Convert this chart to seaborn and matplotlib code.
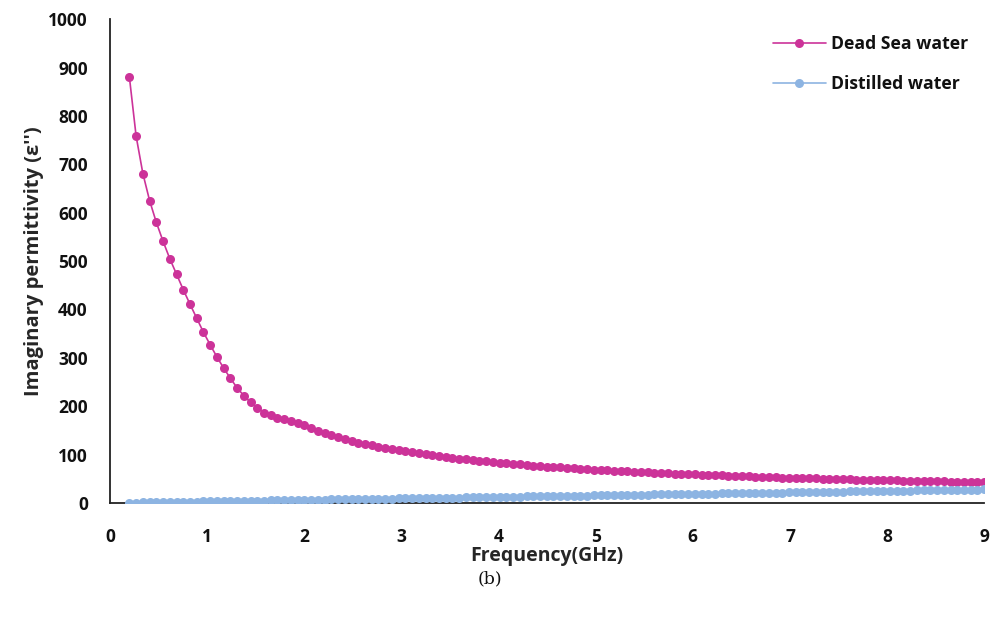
import numpy as np
import pandas as pd
import matplotlib
matplotlib.use("Agg")
import matplotlib.pyplot as plt
import seaborn as sns

# ---- data ----
freq_start, freq_stop, n_points = 0.2, 9.0, 128  # linear frequency sweep (GHz)
frequency = np.linspace(freq_start, freq_stop, n_points)

dead_sea = [
    880, 758, 681, 625, 580, 541, 505, 473, 441, 411,
    382, 353, 327, 302, 279, 258, 238, 222, 208, 197,
    187, 181, 176, 173, 169, 166, 161, 155, 149, 144,
    140, 136, 132, 129, 125, 123, 119, 116, 114, 112,
    109, 107, 105, 103, 101, 99, 96.5, 95, 93.4, 91.8,
    90.3, 88.8, 87.4, 86.0, 84.7, 83.4, 82.2, 81.0, 79.8, 78.7,
    77.6, 76.6, 75.5, 74.6, 73.6, 72.7, 71.8, 70.9, 70.0, 69.2,
    68.4, 67.6, 66.9, 66.1, 65.4, 64.7, 64.0, 63.4, 62.7, 62.1,
    61.4, 60.8, 60.2, 59.7, 59.1, 58.5, 58.0, 57.5, 57.0, 56.5,
    56.0, 55.5, 55.0, 54.5, 54.1, 53.6, 53.2, 52.8, 52.4, 52.0,
    51.6, 51.2, 50.8, 50.4, 50.0, 49.7, 49.3, 49.0, 48.6, 48.3,
    47.9, 47.6, 47.3, 47.0, 46.7, 46.3, 46.0, 45.8, 45.5, 45.2,
    44.9, 44.6, 44.3, 44.1, 43.8, 43.6, 43.3, 43.0,
]

distilled = [
    0.9, 1.1, 1.3, 1.6, 1.8, 2.0, 2.2, 2.4, 2.6, 2.9,
    3.1, 3.3, 3.5, 3.7, 3.9, 4.1, 4.4, 4.6, 4.8, 5.0,
    5.2, 5.4, 5.6, 5.9, 6.1, 6.3, 6.5, 6.7, 6.9, 7.2,
    7.4, 7.6, 7.8, 8.0, 8.2, 8.4, 8.7, 8.9, 9.1, 9.3,
    9.5, 9.7, 9.9, 10.2, 10.4, 10.6, 10.8, 11.0, 11.2, 11.4,
    11.7, 11.9, 12.1, 12.3, 12.5, 12.7, 13.0, 13.2, 13.4, 13.6,
    13.8, 14.0, 14.2, 14.5, 14.7, 14.9, 15.1, 15.3, 15.5, 15.7,
    16.0, 16.2, 16.4, 16.6, 16.8, 17.0, 17.2, 17.5, 17.7, 17.9,
    18.1, 18.3, 18.5, 18.7, 19.0, 19.2, 19.4, 19.6, 19.8, 20.0,
    20.3, 20.5, 20.7, 20.9, 21.1, 21.3, 21.5, 21.8, 22.0, 22.2,
    22.4, 22.6, 22.8, 23.0, 23.3, 23.5, 23.7, 23.9, 24.1, 24.3,
    24.5, 24.8, 25.0, 25.2, 25.4, 25.6, 25.8, 26.1, 26.3, 26.5,
    26.7, 26.9, 27.1, 27.3, 27.6, 27.8, 28.0, 28.2,
]

series_names = ["Dead Sea water", "Distilled water"]
x_ticks = list(range(0, 10))
y_ticks = list(range(0, 1001, 100))

df = pd.DataFrame({
    "Frequency": np.concatenate([frequency, frequency]),
    "Value": np.concatenate([dead_sea, distilled]),
    "Series": [series_names[0]] * n_points + [series_names[1]] * n_points,
})

# ---- style ----
sns.set_style("white")
plt.rcParams["font.family"] = ["Open Sans", "DejaVu Sans"]
plt.rcParams["text.color"] = "#111111"

palette = {series_names[0]: "#CC3399", series_names[1]: "#8DB4E2"}

fig = plt.figure(figsize=(9.98, 6.18), dpi=100)
ax = fig.add_axes([0.1102, 0.186, 0.876, 0.783])

sns.lineplot(
    data=df, x="Frequency", y="Value", hue="Series", palette=palette,
    marker="o", markersize=6.5, markeredgewidth=0, linewidth=1.2,
    ax=ax, legend=True, zorder=3,
)

ax.set_xlim(0, 9)
ax.set_ylim(0, 1000)
ax.set_xticks(x_ticks)
ax.set_yticks(y_ticks)
ax.tick_params(axis="x", length=0, labelsize=12.5, pad=18, colors="#111111")
ax.tick_params(axis="y", length=0, labelsize=12.5, pad=16, colors="#111111")
for lab in ax.get_xticklabels() + ax.get_yticklabels():
    lab.set_fontweight("bold")

for side in ["top", "right"]:
    ax.spines[side].set_visible(False)
for side in ["left", "bottom"]:
    ax.spines[side].set_color("#222222")
    ax.spines[side].set_linewidth(1.3)

ax.set_xlabel("Frequency(GHz)", fontsize=14, fontweight="bold", labelpad=0)
ax.set_ylabel("Imaginary permittivity (ε'')", fontsize=14.5, fontweight="bold", labelpad=3)

handles, labels = ax.get_legend_handles_labels()
leg = ax.legend(handles, labels, loc="upper right", bbox_to_anchor=(1.0, 1.0),
                frameon=False, fontsize=12.7, handlelength=3.0, handletextpad=0.3,
                labelspacing=1.25)
for t in leg.get_texts():
    t.set_fontweight("bold")

fig.text(0.491, 0.064, "(b)", fontsize=12.5, family=["DejaVu Serif"],
         fontweight="normal", ha="center", va="center")

fig.savefig("out.png", dpi=100)
